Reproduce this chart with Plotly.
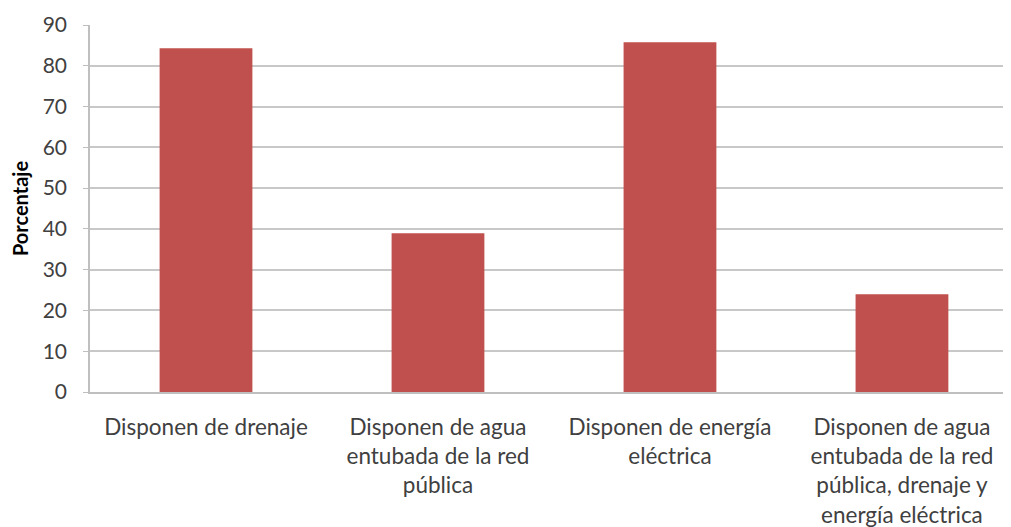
import plotly.graph_objects as go

categories = [
    "Disponen de drenaje",
    "Disponen de agua<br>entubada de la red<br>pública",
    "Disponen de energía<br>eléctrica",
    "Disponen de agua<br>entubada de la red<br>pública, drenaje y<br>energía eléctrica",
]
values = [84.3, 38.9, 85.8, 24.0]
y_ticks = [0, 10, 20, 30, 40, 50, 60, 70, 80, 90]

fig = go.Figure(
    go.Bar(
        x=categories,
        y=values,
        marker=dict(color="#C0504D", line=dict(width=0)),
        width=0.4,
    )
)

# page body has an 8px margin; figure sized to fill the rest of the 1011x527 window
fig.update_layout(
    width=1003,
    height=519,
    margin=dict(l=82, r=0, t=17, b=135),
    paper_bgcolor="white",
    plot_bgcolor="white",
    font=dict(family="Lato", color="#404040", size=22),
    showlegend=False,
)

fig.update_xaxes(
    range=[-0.5, 3.47],
    showline=True,
    linecolor="#BFBFBF",
    linewidth=1.5,
    showgrid=False,
    ticks="",
    tickfont=dict(size=22.5, color="#404040"),
    ticklabelstandoff=14,
)

fig.update_yaxes(
    range=[0, 90],
    tickvals=y_ticks,
    showgrid=True,
    gridcolor="#C8C8C8",
    gridwidth=1.5,
    showline=True,
    linecolor="#BFBFBF",
    linewidth=1.5,
    ticks="outside",
    ticklen=5,
    tickcolor="#BFBFBF",
    tickfont=dict(size=21, color="#404040"),
    ticklabelstandoff=12,
    zeroline=False,
    title=dict(text="<b>Porcentaje</b>", font=dict(size=20, color="#000000"), standoff=16),
)

fig.write_html("out.html")
